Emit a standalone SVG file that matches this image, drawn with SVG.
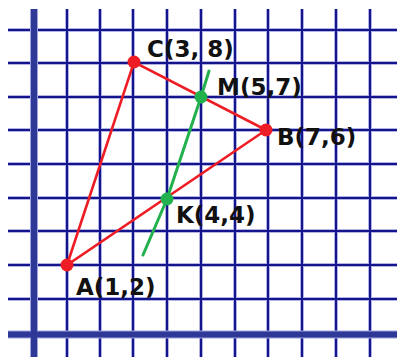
<svg xmlns="http://www.w3.org/2000/svg" width="397" height="357" viewBox="0 0 397 357">
  <style>
    .halo { stroke: #b4b4e4; stroke-width: 4; fill: none; }
    .grid { stroke: #14148c; stroke-width: 2; fill: none; }
    .axis-halo { stroke: #9ea4dc; stroke-width: 8; fill: none; }
    .axis { stroke: #2e3896; stroke-width: 6; fill: none; }
    .red { stroke: #ee1c24; stroke-width: 2.6; fill: none; stroke-linecap: round; }
    .green { stroke: #22b14c; stroke-width: 3; fill: none; stroke-linecap: round; stroke-linejoin: round; }
    .rdot { fill: #ee1c24; }
    .gdot { fill: #22b14c; }
    .lbl { font-family: "DejaVu Sans", Verdana, sans-serif; font-weight: bold; font-size: 23px; fill: #111111; }
  </style>
  <rect width="397" height="357" fill="#ffffff"/>
  <g id="grid">
    <path class="halo" d="M67 9V357M100 9V357M133 9V357M167 9V357M201 9V357M235 9V357M268 9V357M302 9V357M336 9V357M370 9V357M8 30H397M8 63H397M8 97H397M8 130H397M8 164H397M8 198H397M8 231H397M8 265H397M8 299H397"/>
    <path class="grid" d="M67 9V357M100 9V357M133 9V357M167 9V357M201 9V357M235 9V357M268 9V357M302 9V357M336 9V357M370 9V357M8 30H397M8 63H397M8 97H397M8 130H397M8 164H397M8 198H397M8 231H397M8 265H397M8 299H397"/>
    <path class="axis-halo" d="M34 9V357M8 334.5H397"/>
    <path class="axis" d="M34 9V357M8 334.5H397"/>
  </g>
  <g id="connectors">
    <path class="red" d="M67 265L134 62L266 130Z"/>
    <polyline class="green" points="209,71 201,97 167,199 143,255"/>
  </g>
  <g id="A">
    <circle class="rdot" cx="67" cy="265" r="6.5"/>
    <text class="lbl" x="76" y="295">A(1,2)</text>
  </g>
  <g id="C">
    <circle class="rdot" cx="134" cy="62" r="6.5"/>
    <text class="lbl" x="147" y="57">C(3, 8)</text>
  </g>
  <g id="B">
    <circle class="rdot" cx="266" cy="130" r="6.5"/>
    <text class="lbl" x="277" y="145">B(7,6)</text>
  </g>
  <g id="M">
    <circle class="gdot" cx="201" cy="97" r="6.5"/>
    <text class="lbl" x="217" y="95">M(5,7)</text>
  </g>
  <g id="K">
    <circle class="gdot" cx="167" cy="199" r="6.5"/>
    <text class="lbl" x="176" y="223">K(4,4)</text>
  </g>
</svg>
